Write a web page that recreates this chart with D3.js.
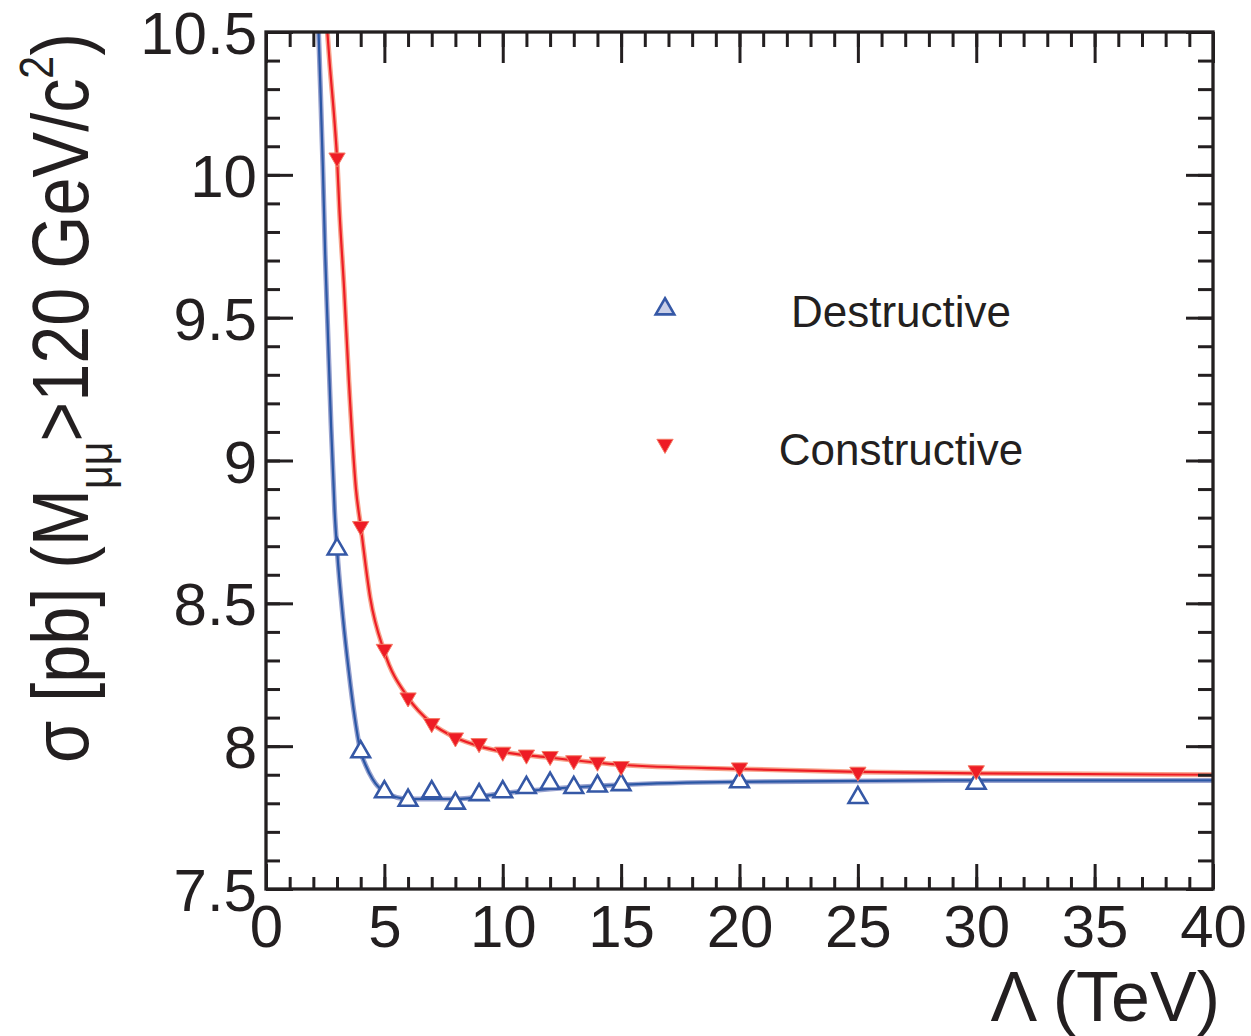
<html>
<head>
<meta charset="utf-8">
<title>sigma vs Lambda</title>
<style>
  body { margin: 0; background: #fff; }
  text { font-family: "Liberation Sans", Arial, sans-serif; fill: #231f20; }
</style>
</head>
<body>
<script src="https://cdn.jsdelivr.net/npm/d3@7/dist/d3.min.js"></script>
<script>

// ---- data ----
var lambdaPts   = [3, 4, 5, 6, 7, 8, 9, 10, 11, 12, 13, 14, 15, 20, 25, 30];
var destructive = [8.69, 7.98, 7.84, 7.81, 7.84, 7.80, 7.83, 7.84, 7.855, 7.87, 7.855, 7.86, 7.865, 7.875, 7.82, 7.87];
var constructive = [10.06, 8.77, 8.34, 8.17, 8.08, 8.03, 8.01, 7.98, 7.97, 7.965, 7.95, 7.945, 7.93, 7.925, 7.91, 7.915];

// fitted curves (Lambda, sigma)
var destrFitX = [2.18, 2.3, 2.4, 2.5, 2.6, 2.75, 2.9, 3, 3.25, 3.5, 3.75, 4, 4.2, 4.5, 5, 6, 8, 10, 12, 15, 20, 30, 40];
var destrFitY = [10.6, 10.3, 10.03, 9.72, 9.48, 9.12, 8.82, 8.69, 8.45, 8.26, 8.1, 7.98, 7.935, 7.885, 7.84, 7.815, 7.815, 7.835, 7.85, 7.865, 7.875, 7.88, 7.88];
var constFitX = [2.5, 2.7, 2.9, 3, 3.1, 3.3, 3.5, 3.8, 4, 4.4, 5, 6, 7, 8, 9, 10, 12, 15, 20, 25, 30, 40];
var constFitY = [10.6, 10.38, 10.18, 10.06, 9.88, 9.6, 9.28, 8.9, 8.77, 8.52, 8.33, 8.17, 8.08, 8.03, 8.0, 7.98, 7.96, 7.935, 7.92, 7.91, 7.905, 7.9];

var xTicks = [0, 5, 10, 15, 20, 25, 30, 35, 40];
var yTicks = [7.5, 8, 8.5, 9, 9.5, 10, 10.5];
var seriesNames = ["Destructive", "Constructive"];

var width = 1251, height = 1036;
var pL = 266, pR = 1213, pT = 32, pB = 889;
var ink = "#231f20";

var svg = d3.select("body").append("svg")
    .attr("width", width)
    .attr("height", height);

var x = d3.scaleLinear().domain([0, 40]).range([pL, pR]);
var y = d3.scaleLinear().domain([7.5, 10.5]).range([pB, pT]);

svg.append("clipPath").attr("id", "plotclip")
  .append("rect")
    .attr("x", pL).attr("y", pT)
    .attr("width", pR - pL).attr("height", pB - pT);

// ---- fit lines ----
var line = d3.line()
    .x(function(d) { return x(d[0]); })
    .y(function(d) { return y(d[1]); })
    .curve(d3.curveMonotoneX);

function fitPoints(xs, ys) {
  return xs.map(function(v, i) { return [v, ys[i]]; });
}

var curves = svg.append("g").attr("clip-path", "url(#plotclip)");
var fits = [
  { pts: fitPoints(destrFitX, destrFitY), pale: "#98a2cf", core: "#2b57a5" },
  { pts: fitPoints(constFitX, constFitY), pale: "#f7a38c", core: "#ee1c25" }
];
fits.forEach(function(f) {
  curves.append("path").attr("d", line(f.pts))
    .attr("fill", "none").attr("stroke", f.pale).attr("stroke-width", 5);
  curves.append("path").attr("d", line(f.pts))
    .attr("fill", "none").attr("stroke", f.core).attr("stroke-width", 2.2);
});

// ---- markers ----
var upTri = d3.symbol().type(d3.symbolTriangle).size(150);
var downTri = d3.symbol().type(d3.symbolTriangle).size(115);

svg.append("g").selectAll("path")
  .data(lambdaPts)
  .join("path")
    .attr("d", upTri)
    .attr("transform", function(d, i) { return "translate(" + x(d) + "," + y(destructive[i]) + ")"; })
    .attr("fill", "#fff")
    .attr("stroke", "#3558a6")
    .attr("stroke-width", 2.6);

svg.append("g").selectAll("path")
  .data(lambdaPts)
  .join("path")
    .attr("d", downTri)
    .attr("transform", function(d, i) { return "translate(" + x(d) + "," + y(constructive[i]) + ") rotate(180)"; })
    .attr("fill", "#ee1c25")
    .attr("stroke", "#f47b66")
    .attr("stroke-width", 1);

// ---- frame & ticks ----
svg.append("rect")
  .attr("x", pL).attr("y", pT)
  .attr("width", pR - pL).attr("height", pB - pT)
  .attr("fill", "none").attr("stroke", ink).attr("stroke-width", 3.3);

function styleAxis(g) {
  g.select(".domain").remove();
  g.selectAll("line").attr("stroke", ink).attr("stroke-width", 3);
}

var yMinor = d3.range(75, 106, 1).map(function(v) { return v / 10; });

// minor ticks
svg.append("g").attr("transform", "translate(0," + pB + ")")
  .call(d3.axisBottom(x).tickValues(d3.range(0, 41, 1)).tickSize(-12).tickFormat(""))
  .call(styleAxis);
svg.append("g").attr("transform", "translate(0," + pT + ")")
  .call(d3.axisTop(x).tickValues(d3.range(0, 41, 1)).tickSize(-15).tickFormat(""))
  .call(styleAxis);
svg.append("g").attr("transform", "translate(" + pL + ",0)")
  .call(d3.axisLeft(y).tickValues(yMinor).tickSize(-14).tickFormat(""))
  .call(styleAxis);
svg.append("g").attr("transform", "translate(" + pR + ",0)")
  .call(d3.axisRight(y).tickValues(yMinor).tickSize(-15).tickFormat(""))
  .call(styleAxis);

// major ticks with labels
var xAxis = svg.append("g").attr("transform", "translate(0," + pB + ")")
  .call(d3.axisBottom(x).tickValues(xTicks).tickSize(-25).tickFormat(function(d) { return String(d); }))
  .call(styleAxis);
xAxis.selectAll("text")
  .attr("y", 58).attr("dy", 0)
  .attr("fill", ink)
  .style("font-size", "60px")
  .style("font-family", "'Liberation Sans', Arial, sans-serif");

svg.append("g").attr("transform", "translate(0," + pT + ")")
  .call(d3.axisTop(x).tickValues(xTicks).tickSize(-31).tickFormat(""))
  .call(styleAxis);

var yAxis = svg.append("g").attr("transform", "translate(" + pL + ",0)")
  .call(d3.axisLeft(y).tickValues(yTicks).tickSize(-27).tickFormat(function(d) { return String(d); }))
  .call(styleAxis);
yAxis.selectAll("text")
  .attr("x", -9).attr("dy", "0.36em")
  .attr("fill", ink)
  .style("font-size", "60px")
  .style("font-family", "'Liberation Sans', Arial, sans-serif");

svg.append("g").attr("transform", "translate(" + pR + ",0)")
  .call(d3.axisRight(y).tickValues(yTicks).tickSize(-27).tickFormat(""))
  .call(styleAxis);

// ---- axis titles ----
svg.append("text")
  .attr("x", 1220).attr("y", 1021)
  .attr("text-anchor", "end")
  .style("font-size", "70px")
  .text("\u039B (TeV)");

var yt = svg.append("text")
  .attr("text-anchor", "middle")
  .style("font-size", "80px");
yt.append("tspan").text("\u03C3 [pb] (M");
yt.append("tspan").attr("dy", 24).style("font-size", "48px").text("\u03BC\u03BC");
yt.append("tspan").attr("dy", -24).text(">120 GeV/c");
yt.append("tspan").attr("dy", -35).style("font-size", "48px").text("2");
yt.append("tspan").attr("dy", 35).text(")");
var ytLen = yt.node().getBBox().width;
var ytScale = 730 / ytLen;
yt.attr("transform", "translate(88,398) rotate(-90) scale(" + ytScale + ",1)");

// ---- legend ----
var legend = svg.append("g");
legend.append("path")
  .attr("d", upTri)
  .attr("transform", "translate(665,309)")
  .attr("fill", "#c9cfe8").attr("stroke", "#3558a6").attr("stroke-width", 2.6);
legend.append("path")
  .attr("d", downTri)
  .attr("transform", "translate(665,444) rotate(180)")
  .attr("fill", "#ee1c25").attr("stroke", "#f47b66").attr("stroke-width", 1);
legend.append("text")
  .attr("x", 901).attr("y", 327)
  .attr("text-anchor", "middle")
  .style("font-size", "44px")
  .text(seriesNames[0]);
legend.append("text")
  .attr("x", 901).attr("y", 465)
  .attr("text-anchor", "middle")
  .style("font-size", "44px")
  .text(seriesNames[1]);

</script>
</body>
</html>
